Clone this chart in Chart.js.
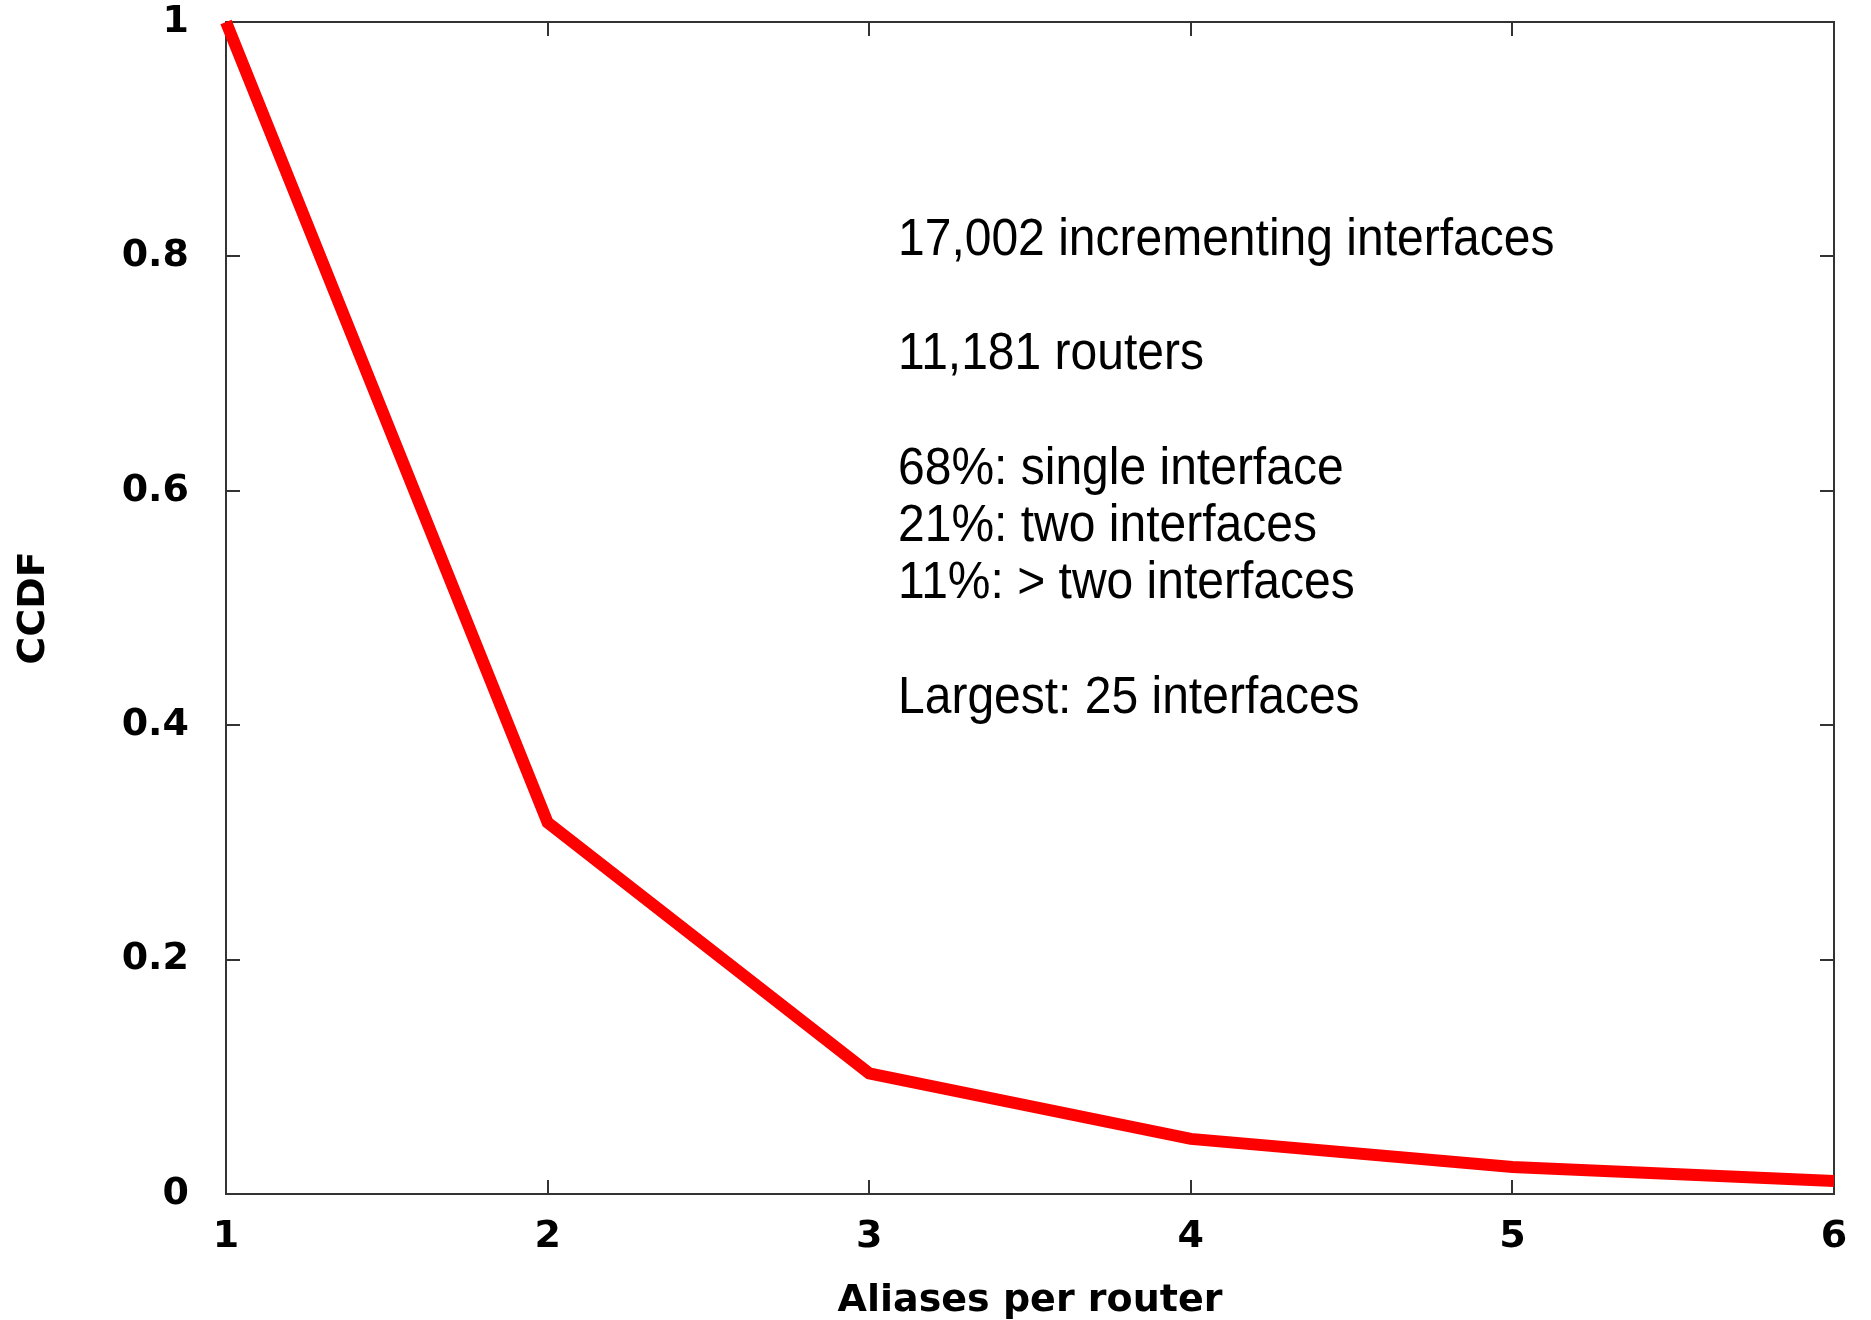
<!DOCTYPE html>
<html>
<head>
<meta charset="utf-8">
<script src="https://cdn.jsdelivr.net/npm/chart.js@4.4.1/dist/chart.umd.min.js"></script>
<style>
  html, body { margin: 0; padding: 0; background: #fff; }
  #wrap { width: 1871px; height: 1320px; }
</style>
</head>
<body>
<div id="wrap"><canvas id="ccdf_Chart"></canvas></div>
<script>
const aliasesPerRouter = [1, 2, 3, 4, 5, 6];
const ccdfValues = [1, 0.317, 0.103, 0.047, 0.023, 0.011];
const xTicks = [1, 2, 3, 4, 5, 6];
const yTicks = [0, 0.2, 0.4, 0.6, 0.8, 1];
const noteLines = [
    '17,002 incrementing interfaces',
    '',
    '11,181 routers',
    '',
    '68%: single interface',
    '21%: two interfaces',
    '11%: > two interfaces',
    '',
    'Largest: 25 interfaces'
];

const ctx = document.getElementById('ccdf_Chart').getContext('2d');

const frameColor = '#333';
const tickLen = 14;

// gnuplot-style box with inward ticks on all four sides
const framePlugin = {
    id: 'frame',
    beforeDatasetsDraw(chart) {
        const { ctx, chartArea: a, scales } = chart;
        ctx.save();
        ctx.strokeStyle = frameColor;
        ctx.lineWidth = 2;
        ctx.strokeRect(a.left, a.top, a.right - a.left, a.bottom - a.top);
        ctx.beginPath();
        xTicks.forEach(v => {
            const px = Math.round(scales.x.getPixelForValue(v));
            ctx.moveTo(px, a.bottom); ctx.lineTo(px, a.bottom - tickLen);
            ctx.moveTo(px, a.top); ctx.lineTo(px, a.top + tickLen);
        });
        yTicks.forEach(v => {
            const py = Math.round(scales.y.getPixelForValue(v));
            ctx.moveTo(a.left, py); ctx.lineTo(a.left + tickLen, py);
            ctx.moveTo(a.right, py); ctx.lineTo(a.right - tickLen, py);
        });
        ctx.stroke();
        ctx.restore();
    }
};

const notePlugin = {
    id: 'notes',
    afterDraw(chart) {
        const c = chart.ctx;
        c.save();
        c.fillStyle = '#000';
        c.font = '48px "Liberation Sans", Arial, sans-serif';
        c.textBaseline = 'alphabetic';
        noteLines.forEach((line, i) => {
            if (!line) return;
            c.save();
            c.translate(898, 255 + i * 57.2);
            c.scale(1, 1.08);
            c.fillText(line, 0, 0);
            c.restore();
        });
        c.restore();
    }
};

const tickFont = { family: 'DejaVu Sans', weight: 'bold', size: 38 };
const titleFont = { family: 'DejaVu Sans', weight: 'bold', size: 38 };

const config = {
    type: 'line',
    data: {
        datasets: [{
            data: aliasesPerRouter.map((x, i) => ({ x: x, y: ccdfValues[i] })),
            borderColor: '#ff0000',
            borderWidth: 12,
            pointRadius: 0,
            tension: 0,
            clip: false
        }]
    },
    options: {
        responsive: true,
        maintainAspectRatio: false,
        animation: false,
        layout: { padding: { top: 22, right: 37, left: 0, bottom: 0 } },
        plugins: {
            legend: { display: false },
            tooltip: { enabled: false }
        },
        scales: {
            x: {
                type: 'linear',
                min: 1,
                max: 6,
                afterBuildTicks: s => { s.ticks = xTicks.map(v => ({ value: v })); },
                afterFit: s => { s.height = 126; s.paddingLeft = 0; s.paddingRight = 0; },
                ticks: { font: tickFont, color: '#000', padding: 20, callback: v => String(v) },
                grid: { display: false, drawTicks: false },
                border: { display: false },
                title: {
                    display: true,
                    text: 'Aliases per router',
                    font: titleFont,
                    color: '#000',
                    padding: { top: 0, bottom: -4 }
                }
            },
            y: {
                type: 'linear',
                min: 0,
                max: 1,
                afterBuildTicks: s => { s.ticks = yTicks.map(v => ({ value: v })); },
                afterFit: s => { s.width = 226; s.paddingTop = 0; s.paddingBottom = 0; },
                ticks: { font: tickFont, color: '#000', padding: 37, callback: v => String(v) },
                grid: { display: false, drawTicks: false },
                border: { display: false },
                title: {
                    display: true,
                    text: 'CCDF',
                    font: titleFont,
                    color: '#000',
                    padding: { top: 11, bottom: 0 }
                }
            }
        }
    },
    plugins: [framePlugin, notePlugin]
};

const ccdfChart = new Chart(ctx, config);
</script>
</body>
</html>
